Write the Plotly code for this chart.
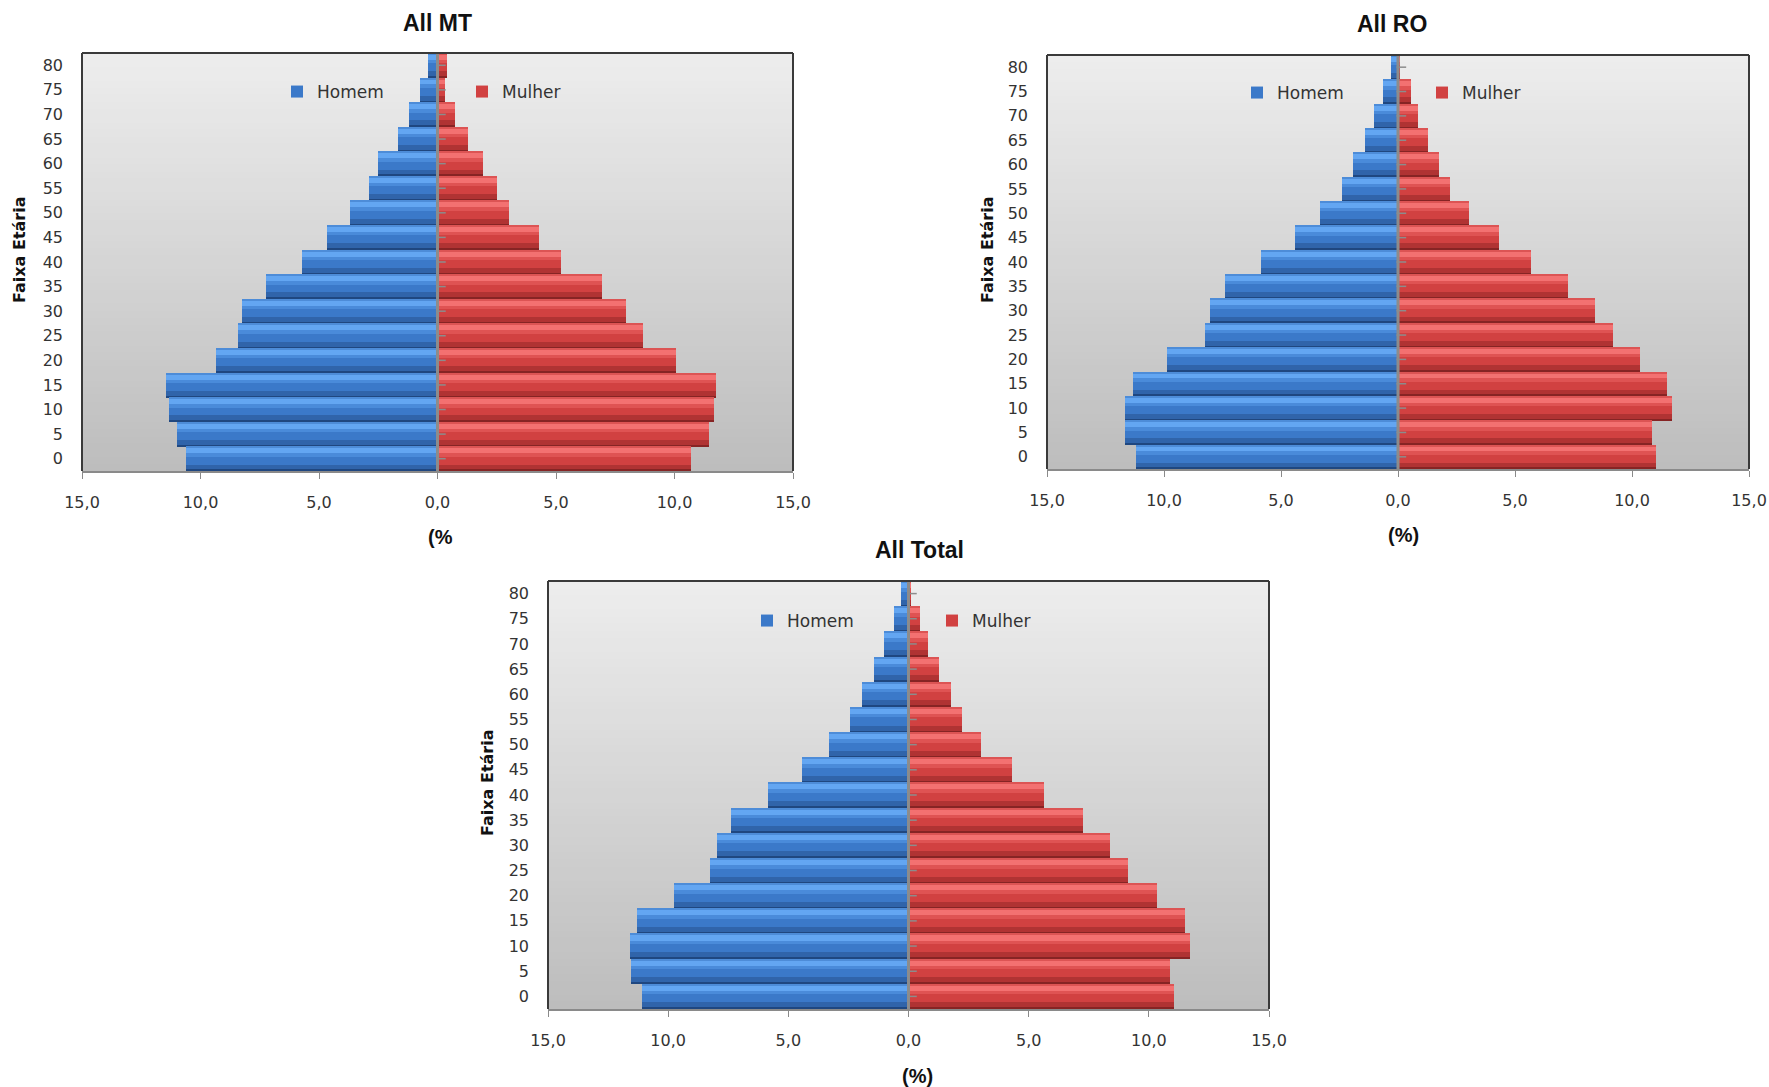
import plotly.graph_objects as go

W, H = 1769, 1087

# ---- data: share of population (%) by age group, 0 .. 80 ----
idades = [0, 5, 10, 15, 20, 25, 30, 35, 40, 45, 50, 55, 60, 65, 70, 75, 80]

mt_homem = [10.6, 11.0, 11.35, 11.47, 9.35, 8.43, 8.27, 7.25, 5.73, 4.67, 3.68, 2.87, 2.53, 1.67, 1.2, 0.75, 0.42]
mt_mulher = [10.68, 11.47, 11.65, 11.73, 10.06, 8.65, 7.95, 6.93, 5.2, 4.3, 3.0, 2.52, 1.93, 1.27, 0.74, 0.32, 0.41]

ro_homem = [11.19, 11.66, 11.66, 11.34, 9.87, 8.23, 8.03, 7.4, 5.86, 4.41, 3.33, 2.39, 1.92, 1.43, 1.03, 0.65, 0.31]
ro_mulher = [11.03, 10.87, 11.7, 11.5, 10.34, 9.19, 8.41, 7.25, 5.68, 4.3, 3.02, 2.21, 1.74, 1.28, 0.87, 0.54, 0.08]

total_homem = [11.08, 11.54, 11.57, 11.28, 9.74, 8.27, 7.98, 7.38, 5.86, 4.43, 3.3, 2.43, 1.94, 1.43, 1.03, 0.62, 0.31]
total_mulher = [11.03, 10.88, 11.7, 11.5, 10.34, 9.14, 8.4, 7.27, 5.64, 4.3, 3.03, 2.23, 1.76, 1.27, 0.82, 0.49, 0.1]

x_ticks = [-15, -10, -5, 0, 5, 10, 15]
x_tick_text = ["15,0", "10,0", "5,0", "0,0", "5,0", "10,0", "15,0"]

titulos = ["All MT", "All RO", "All Total"]
eixo_x = ["(%", "(%)", "(%)"]
eixo_y = "Faixa Etária"
series = ["Homem", "Mulher"]

# ---- styling ----
TXT = "#333333"
FONT = "DejaVu Sans"
BOLD = "Liberation Sans"

# bevel bands for each bar: (offset, width, color) in age units (slot = 5)
BLUE_BANDS = [
    (-2.5, 5.0, "#3b79c9"),
    (-2.5, 1.3, "#3064aa"),
    (-2.5, 0.3, "#1f4780"),
    (0.4, 0.75, "#4a8bda"),
    (1.1, 1.15, "#63a6f2"),
    (2.2, 0.3, "#4d8cd8"),
]
RED_BANDS = [
    (-2.5, 5.0, "#d14141"),
    (-2.5, 1.3, "#b03333"),
    (-2.5, 0.3, "#862424"),
    (0.4, 0.75, "#df5353"),
    (1.1, 1.15, "#f37171"),
    (2.2, 0.3, "#dc5454"),
]

# plot areas in pixels: (left, top, right, bottom)
panels = [
    dict(box=(82, 53, 793, 471), title=(437, 23), xt=(426, 537, "left"),
         yt=(20, 250), leg=(317, 92)),
    dict(box=(1047, 55, 1749, 469), title=(1392, 24), xt=(1403, 535, "center"),
         yt=(988, 250), leg=(1277, 93)),
    dict(box=(548, 581, 1269, 1009), title=(919, 550), xt=(917, 1076, "center"),
         yt=(487, 783), leg=(787, 621)),
]
dados = [(mt_homem, mt_mulher), (ro_homem, ro_mulher), (total_homem, total_mulher)]


def px(x):
    return x / W


def py(y):
    return 1 - y / H


fig = go.Figure()
shapes = []
annotations = []
layout = {}

for i, (p, (homem, mulher)) in enumerate(zip(panels, dados)):
    n = "" if i == 0 else str(i + 1)
    xa, ya = "x" + n, "y" + n
    leg = "legend" + n
    l, t, r, b = p["box"]

    for vals, bands, sign, name in ((homem, BLUE_BANDS, -1, series[0]),
                                    (mulher, RED_BANDS, 1, series[1])):
        for k, (off, wd, col) in enumerate(bands):
            fig.add_trace(go.Bar(
                x=[sign * v for v in vals], y=idades, orientation="h",
                width=wd, offset=off, marker=dict(color=col, line=dict(width=0)),
                name=name, showlegend=(k == 0), legend=leg,
                xaxis=xa, yaxis=ya, hoverinfo="skip" if k else None,
            ))

    # small tick marks on the central (zero) axis, one per age group
    fig.add_trace(go.Scatter(
        x=[0.14] * len(idades), y=idades, mode="markers", xaxis=xa, yaxis=ya,
        marker=dict(symbol="line-ew", size=7, line=dict(color="#8c8c8c", width=1.5)),
        showlegend=False, hoverinfo="skip",
    ))

    layout["xaxis" + n] = dict(
        domain=[px(l), px(r)], anchor=ya, range=[-15, 15], automargin=False,
        tickvals=x_ticks, ticktext=x_tick_text, showgrid=False, zeroline=False,
        showline=True, linecolor="#8a8a8a", linewidth=1.5,
        ticks="outside", ticklen=6, tickcolor="#8a8a8a", ticklabelstandoff=10,
        tickfont=dict(family=FONT, size=16, color=TXT), fixedrange=True,
    )
    layout["yaxis" + n] = dict(
        domain=[py(b), py(t)], anchor=xa, range=[-2.5, 82.5], automargin=False,
        tickvals=idades, showgrid=False, zeroline=False, showline=False,
        ticks="", ticklabelstandoff=18,
        tickfont=dict(family=FONT, size=16, color=TXT), fixedrange=True,
    )
    layout[leg] = dict(
        orientation="h", x=px(p["leg"][0] - 40), xanchor="left",
        y=py(p["leg"][1]), yanchor="middle", bgcolor="rgba(0,0,0,0)",
        font=dict(family=FONT, size=17, color=TXT),
        entrywidthmode="pixels", entrywidth=140, itemclick=False,
        itemdoubleclick=False, traceorder="normal",
    )

    # vertical gradient behind the bars (stacked so no seams show)
    nb = 60
    for k in range(nb):
        f = k / (nb - 1)
        g = round(237 - (237 - 189) * f)
        shapes.append(dict(
            type="rect", layer="below", xref=xa + " domain", yref=ya + " domain",
            x0=0, x1=1, y0=0, y1=1 - k / nb,
            fillcolor=f"rgb({g},{g},{g})", line=dict(width=0),
        ))
    # zero axis
    shapes.append(dict(type="line", layer="above", xref=xa, yref=ya + " domain",
                       x0=0, x1=0, y0=0, y1=1, line=dict(color="#8c8c8c", width=3)))
    # frame (top, left, right)
    for x0, y0, x1, y1 in ((0, 1, 1, 1), (0, 0, 0, 1), (1, 0, 1, 1)):
        shapes.append(dict(type="line", layer="above", xref=xa + " domain",
                           yref=ya + " domain", x0=x0, y0=y0, x1=x1, y1=y1,
                           line=dict(color="#3a3a3a", width=2)))

    annotations.append(dict(
        text=titulos[i], x=px(p["title"][0]), y=py(p["title"][1]), xref="paper",
        yref="paper", xanchor="center", yanchor="middle", showarrow=False,
        font=dict(family=BOLD, size=23, color="#111111", weight="bold"),
    ))
    annotations.append(dict(
        text=eixo_x[i], x=px(p["xt"][0]), y=py(p["xt"][1]), xref="paper",
        yref="paper", xanchor=p["xt"][2], yanchor="middle", showarrow=False,
        font=dict(family=BOLD, size=20, color="#111111", weight="bold"),
    ))
    annotations.append(dict(
        text=eixo_y, x=px(p["yt"][0]), y=py(p["yt"][1]), xref="paper",
        yref="paper", xanchor="center", yanchor="middle", showarrow=False,
        textangle=-90,
        font=dict(family=FONT, size=16, color="#111111", weight="bold"),
    ))

fig.update_layout(
    width=W, height=H, margin=dict(l=0, r=0, t=0, b=0, autoexpand=False),
    paper_bgcolor="white", plot_bgcolor="white",
    barmode="overlay", bargap=0,
    shapes=shapes, annotations=annotations, **layout,
)

fig.write_html("out.html", config={"displayModeBar": False})
